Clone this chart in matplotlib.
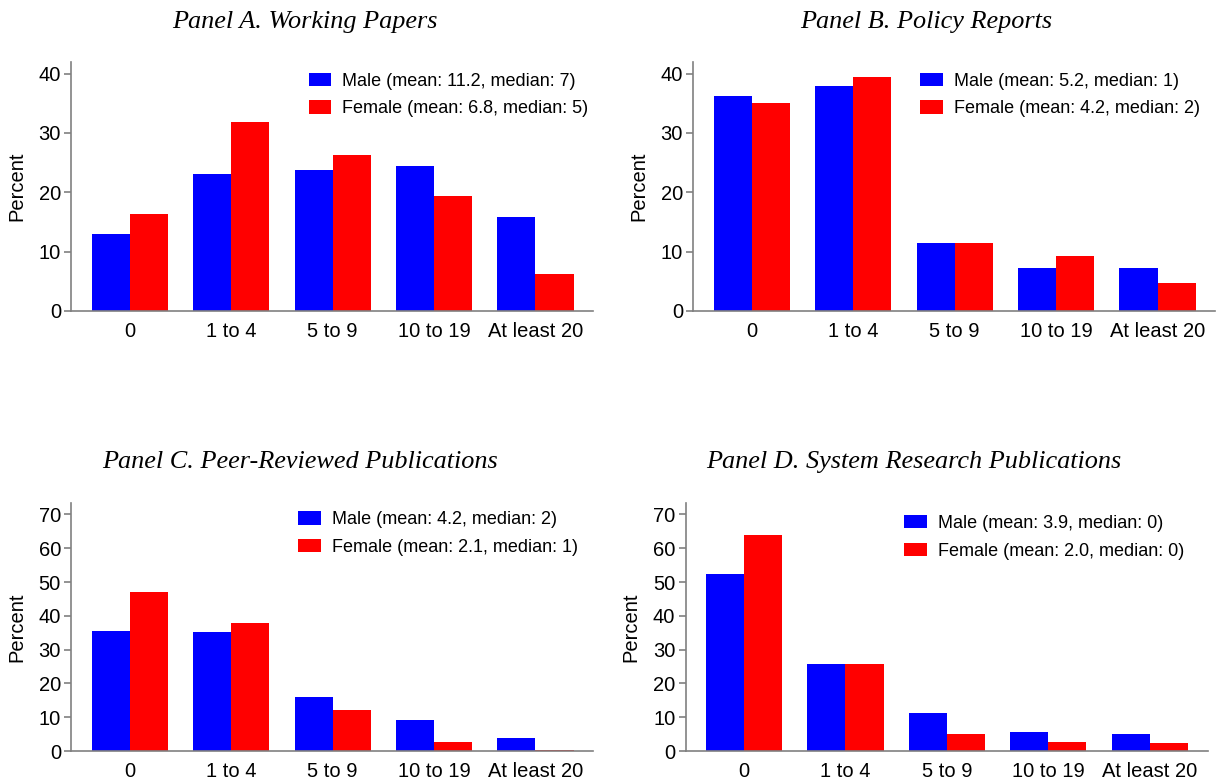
import matplotlib
matplotlib.use("Agg")
import matplotlib.pyplot as plt
import numpy as np

# publication-count bins shared by all four panels
categories = ["0", "1 to 4", "5 to 9", "10 to 19", "At least 20"]

titles = [
    "Panel A. Working Papers",
    "Panel B. Policy Reports",
    "Panel C. Peer-Reviewed Publications",
    "Panel D. System Research Publications",
]

male_pct = [
    [12.9, 23.1, 23.8, 24.5, 15.8],
    [36.3, 37.9, 11.4, 7.2, 7.3],
    [35.4, 35.3, 16.0, 9.1, 3.9],
    [52.4, 25.7, 11.2, 5.5, 5.0],
]
female_pct = [
    [16.3, 31.8, 26.3, 19.4, 6.2],
    [35.0, 39.5, 11.4, 9.3, 4.8],
    [47.0, 38.0, 12.0, 2.8, 0.3],
    [64.0, 25.7, 5.1, 2.8, 2.4],
]

male_labels = [
    "Male (mean: 11.2, median: 7)",
    "Male (mean: 5.2, median: 1)",
    "Male (mean: 4.2, median: 2)",
    "Male (mean: 3.9, median: 0)",
]
female_labels = [
    "Female (mean: 6.8, median: 5)",
    "Female (mean: 4.2, median: 2)",
    "Female (mean: 2.1, median: 1)",
    "Female (mean: 2.0, median: 0)",
]

y_max = [42, 42, 73.5, 73.5]
y_ticks = [np.arange(0, 41, 10), np.arange(0, 41, 10),
           np.arange(0, 71, 10), np.arange(0, 71, 10)]

plt.rcParams["font.family"] = "Liberation Sans"

fig = plt.figure(figsize=(12.19, 7.81), dpi=100)

# axes boxes in figure fractions
boxes = [
    [0.0585, 0.6018, 0.4282, 0.3192],
    [0.5688, 0.6018, 0.4282, 0.3192],
    [0.0585, 0.0384, 0.4282, 0.3180],
    [0.5625, 0.0384, 0.4282, 0.3180],
]
legend_pos = [(0.455, 0.955), (0.435, 0.955), (0.435, 0.965), (0.419, 0.950)]
title_pos = [(0.250, 0.972), (0.760, 0.972), (0.246, 0.408), (0.750, 0.408)]

axis_gray = "#808080"
width = 0.375
x = np.arange(len(categories))

for i in range(4):
    ax = fig.add_axes(boxes[i])
    ax.bar(x - width / 2, male_pct[i], width, color="#0000FF", label=male_labels[i])
    ax.bar(x + width / 2, female_pct[i], width, color="#FF0000", label=female_labels[i])

    ax.set_xlim(-0.575, 4.57)
    ax.set_ylim(0, y_max[i])
    ax.set_yticks(y_ticks[i])
    ax.set_xticks(x)
    ax.set_xticklabels(categories)
    ax.tick_params(axis="x", length=0, pad=8, labelsize=14.5)
    ax.tick_params(axis="y", length=5, width=1.2, color=axis_gray, pad=2.5, labelsize=14.5)
    ax.set_ylabel("Percent", fontsize=14.5, labelpad=9)

    for side in ["top", "right"]:
        ax.spines[side].set_visible(False)
    for side in ["left", "bottom"]:
        ax.spines[side].set_color(axis_gray)
        ax.spines[side].set_linewidth(1.2)

    ax.legend(loc="upper left", bbox_to_anchor=legend_pos[i], frameon=False,
              fontsize=13, handlelength=1.25, handleheight=0.75,
              handletextpad=0.6, labelspacing=0.58, borderpad=0, borderaxespad=0)

    fig.text(title_pos[i][0], title_pos[i][1], titles[i], ha="center", va="center",
             family="Liberation Serif", style="italic", fontsize=18.9)

fig.savefig("out.png", dpi=100)
